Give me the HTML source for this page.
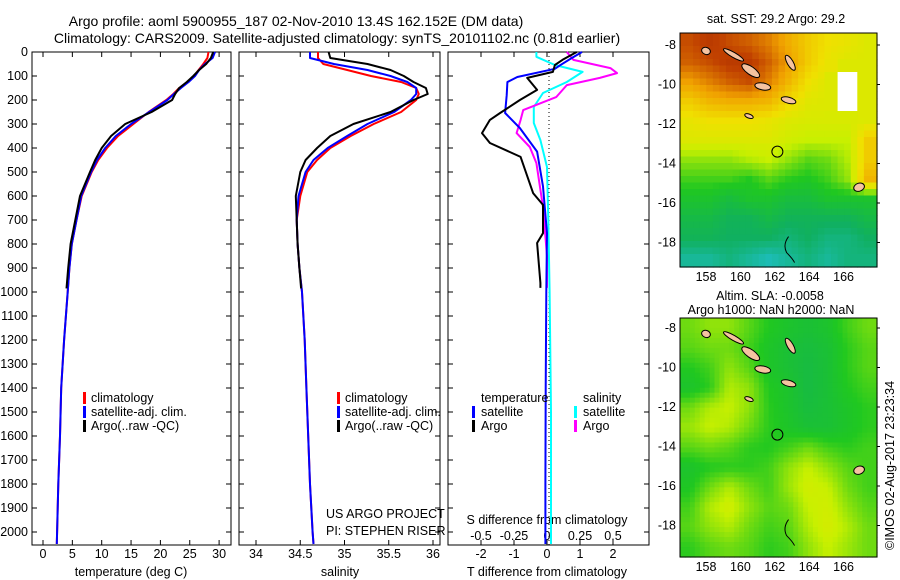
<!DOCTYPE html>
<html><head><meta charset="utf-8">
<style>
html,body{margin:0;padding:0;background:#fff;}
svg{display:block;font-family:"Liberation Sans",Arial,sans-serif;}
text{font-size:12.5px;fill:#000;}
.ttl{font-size:14px;}
</style></head>
<body>
<svg id="c" width="900" height="580" viewBox="0 0 900 580" xmlns="http://www.w3.org/2000/svg">
<text class="ttl" x="296" y="26" text-anchor="middle">Argo profile: aoml 5900955_187 02-Nov-2010 13.4S 162.152E (DM data)</text>
<text class="ttl" x="337" y="43" text-anchor="middle">Climatology: CARS2009. Satellite-adjusted climatology: synTS_20101102.nc (0.81d earlier)</text>
<g id="maps"></g>
<g id="plots"></g>
<text x="0" y="0" transform="translate(894,550) rotate(-90)">©IMOS 02-Aug-2017 23:23:34</text>
</svg>
<script>
// ---------- data ----------
const depthT = [0,25,50,75,100,125,150,175,200,250,300,350,400,450,500,600,700,800,900,1000,1200,1400,1600,1800,2000,2050];
const tempClim = [28.2,28.0,27.3,26.5,25.7,24.6,23.2,22.2,21.0,18.0,15.4,12.8,10.9,9.4,8.3,6.6,5.7,4.9,4.5,4.2,3.6,3.1,2.9,2.6,2.4,2.35];
const tempSat = [29.3,28.9,27.6,26.6,25.9,24.8,23.5,22.3,21.2,18.1,15.0,12.4,10.6,9.2,8.2,6.5,5.7,4.9,4.5,4.2,3.6,3.1,2.9,2.6,2.4,2.35];
const depthA = [0,25,50,75,100,125,150,175,200,250,300,350,400,450,500,600,700,800,900,985];
const tempArgo = [29.0,28.6,27.8,26.6,25.6,24.5,23.2,22.5,22.0,18.5,14.0,11.6,10.0,8.9,8.0,6.3,5.5,4.7,4.3,4.0];
const salClim = [34.70,34.70,34.76,35.03,35.30,35.64,35.81,35.84,35.81,35.64,35.33,35.07,34.84,34.69,34.58,34.50,34.46,34.47,34.49,34.52,34.55,34.57,34.59,34.61,34.64,34.65];
const salSat = [34.61,34.61,34.88,35.26,35.52,35.71,35.81,35.81,35.75,35.56,35.26,35.03,34.81,34.65,34.56,34.48,34.46,34.47,34.49,34.52,34.55,34.57,34.59,34.61,34.64,34.65];
const salArgo = [34.82,34.84,35.26,35.52,35.67,35.78,35.92,35.94,35.78,35.52,35.10,34.84,34.69,34.56,34.50,34.45,34.46,34.47,34.49,34.51];
const dDepTsat = [0,25,55,70,104,125,180,254,317,415,560,755,1000,1400,1800,2050];
const dTsat = [1.06,0.75,0.4,0.24,-0.9,-1.2,-1.22,-1.27,-0.82,-0.3,-0.12,0,-0.02,-0.04,-0.05,-0.05];
const dDepTargo = [0,30,54,83,108,158,200,254,283,338,379,437,588,637,755,796,962,983];
const dTargo = [0.9,0.5,0.24,0.18,-0.6,-0.3,-0.82,-1.42,-1.73,-1.97,-1.73,-0.8,-0.42,-0.12,-0.12,-0.3,-0.2,-0.2];
const dDepSsat = [0,20,54,83,125,171,229,296,367,479,700,1000,1500,2050];
const dSsat = [-0.08,-0.08,0.06,0.27,0.15,-0.03,-0.1,-0.1,-0.05,0,0.01,0.02,0.03,0.03];
const dDepSargo = [0,33,67,88,108,138,188,242,283,338,396,463,646,850,983];
const dSargo = [0.15,0.2,0.48,0.53,0.4,0.15,0.07,-0.18,-0.2,-0.23,-0.13,-0.08,-0.03,0,0];
const depthTicks = [0,100,200,300,400,500,600,700,800,900,1000,1100,1200,1300,1400,1500,1600,1700,1800,1900,2000];
const tempTicks = [0,5,10,15,20,25,30];
const salTicks = [34,34.5,35,35.5,36];
const dTTicks = [-2,-1,0,1,2];
const dSTicks = [-0.5,-0.25,0,0.25,0.5];
const sstGrid = [
[0.88,0.92,0.88,0.85,0.8,0.72,0.65,0.6,0.58,0.55],
[0.85,0.88,0.92,0.92,0.85,0.75,0.65,0.58,0.55,0.55],
[0.75,0.8,0.85,0.88,0.8,0.7,0.6,0.55,-1,0.55],
[0.65,0.7,0.72,0.72,0.7,0.62,0.56,0.55,-1,0.55],
[0.58,0.6,0.6,0.6,0.58,0.55,0.54,0.54,0.54,0.55],
[0.55,0.55,0.55,0.55,0.55,0.52,0.5,0.5,0.5,0.65],
[0.45,0.45,0.45,0.48,0.5,0.45,0.4,0.42,0.48,0.65],
[0.38,0.38,0.38,0.35,0.4,0.36,0.34,0.38,0.45,0.7],
[0.32,0.32,0.28,0.32,0.32,0.28,0.28,0.32,0.32,0.32],
[0.26,0.26,0.22,0.22,0.26,0.22,0.22,0.22,0.22,0.26],
[0.22,0.22,0.2,0.2,0.2,0.16,0.2,0.15,0.15,0.2],
[0.1,0.1,0.15,0.1,0.05,0.1,0.15,0.1,0.15,0.15]];
const slaGrid = [
[0.42,0.45,0.45,0.4,0.35,0.32,0.3,0.32,0.38,0.42],
[0.4,0.42,0.42,0.38,0.33,0.3,0.28,0.3,0.36,0.4],
[0.35,0.38,0.45,0.4,0.33,0.3,0.27,0.3,0.36,0.4],
[0.32,0.36,0.48,0.45,0.35,0.32,0.27,0.3,0.35,0.38],
[0.42,0.48,0.5,0.45,0.36,0.32,0.28,0.3,0.33,0.36],
[0.46,0.5,0.48,0.42,0.36,0.33,0.3,0.3,0.33,0.36],
[0.4,0.42,0.4,0.36,0.35,0.38,0.42,0.38,0.36,0.38],
[0.32,0.35,0.36,0.36,0.38,0.45,0.5,0.45,0.4,0.38],
[0.34,0.42,0.48,0.42,0.38,0.46,0.52,0.5,0.42,0.38],
[0.38,0.48,0.52,0.45,0.4,0.42,0.5,0.52,0.45,0.4],
[0.4,0.45,0.48,0.42,0.38,0.4,0.48,0.53,0.48,0.42],
[0.36,0.4,0.42,0.4,0.36,0.38,0.45,0.5,0.46,0.42]];

// ---------- helpers ----------
const NS='http://www.w3.org/2000/svg';
function mk(tag,attrs,parent){const e=document.createElementNS(NS,tag);for(const k in attrs)e.setAttribute(k,attrs[k]);parent.appendChild(e);return e;}
const plots=document.getElementById('plots');
const maps=document.getElementById('maps');
const yD=d=>52+d*0.24;
const TOP=52,BOT=545;
const xT=t=>43+t*5.87;
const xS=s=>256+(s-34)*88.5;
const xDT=v=>547+v*33;
const xDS=v=>547+v*132;

function frame(x0,x1,name){
  const r=mk('rect',{x:x0,y:TOP,width:x1-x0,height:BOT-TOP,fill:'none',stroke:'#000','stroke-width':1},plots);
  
  
  depthTicks.forEach(d=>{
    mk('line',{x1:x0,x2:x0+5,y1:yD(d),y2:yD(d),stroke:'#000'},plots);
    mk('line',{x1:x1,x2:x1-5,y1:yD(d),y2:yD(d),stroke:'#000'},plots);
  });
}
function xticks(ticks,fx,y,name){
  ticks.forEach(t=>{
    const x=fx(t);
    mk('line',{x1:x,x2:x,y1:BOT,y2:BOT-5,stroke:'#000'},plots);
    mk('line',{x1:x,x2:x,y1:TOP,y2:TOP+5,stroke:'#000'},plots);
    const tx=mk('text',{x:x,y:y,'text-anchor':'middle'},plots);
    tx.textContent=String(t);
    
    
  });
}
function line(xs,ds,fx,color,name){
  const pts=xs.map((v,i)=>fx(v).toFixed(1)+','+yD(ds[i]).toFixed(1)).join(' ');
  const p=mk('polyline',{points:pts,fill:'none',stroke:color,'stroke-width':2,'stroke-linejoin':'round'},plots);
  
  
}
function txt(x,y,s,name,anchor){
  const t=mk('text',{x:x,y:y,'text-anchor':anchor||'start'},plots);
  t.textContent=s;
  
  
  return t;
}
function legMark(x,y,color,name){
  const r=mk('rect',{x:x,y:y-10,width:3,height:12,fill:color},plots);
  
  
}

depthTicks.forEach(d=>{
  const t=mk('text',{x:28,y:yD(d)+4,'text-anchor':'end'},plots);
  t.textContent=String(d);
  
  
});

// panel 1
frame(32,231,'temperature-panel');
xticks(tempTicks,xT,558,'temperature-tick-label');
txt(131,576,'temperature (deg C)','temperature-axis-title','middle');
line(tempClim,depthT,xT,'#ff0000','temperature-climatology-line');
line(tempSat,depthT,xT,'#0000ff','temperature-satellite-line');
line(tempArgo,depthA,xT,'#000000','temperature-argo-line');
legMark(83,402,'#ff0000','legend-climatology-marker');txt(91,402,'climatology','legend-climatology');
legMark(83,416,'#0000ff','legend-satellite-marker');txt(91,416,'satellite-adj. clim.','legend-satellite-adj');
legMark(83,430,'#000000','legend-argo-marker');txt(91,430,'Argo(..raw -QC)','legend-argo');

// panel 2
frame(239,440,'salinity-panel');
xticks(salTicks,xS,558,'salinity-tick-label');
txt(340,576,'salinity','salinity-axis-title','middle');
line(salClim,depthT,xS,'#ff0000','salinity-climatology-line');
line(salSat,depthT,xS,'#0000ff','salinity-satellite-line');
line(salArgo,depthA,xS,'#000000','salinity-argo-line');
legMark(337,402,'#ff0000','legend2-climatology-marker');txt(345,402,'climatology','legend2-climatology');
legMark(337,416,'#0000ff','legend2-satellite-marker');txt(345,416,'satellite-adj. clim.','legend2-satellite-adj');
legMark(337,430,'#000000','legend2-argo-marker');txt(345,430,'Argo(..raw -QC)','legend2-argo');
txt(326,518,'US ARGO PROJECT','project-label');
txt(326,535,'PI: STEPHEN RISER','pi-label');

// panel 3
frame(448,649,'difference-panel');
xticks(dTTicks,xDT,558,'t-diff-tick-label');
dSTicks.forEach(t=>{ txt(xDS(t),540,String(t),'s-diff-tick-label','middle'); });
txt(547,524,'S difference from climatology','s-diff-axis-title','middle');
txt(547,576,'T difference from climatology','t-diff-axis-title','middle');
mk('line',{x1:549,x2:549,y1:TOP,y2:BOT,stroke:'#000','stroke-dasharray':'1,3'},plots);
line(dSsat,dDepSsat,xDS,'#00ffff','s-diff-satellite-line');
line(dSargo,dDepSargo,xDS,'#ff00ff','s-diff-argo-line');
line(dTsat,dDepTsat,xDT,'#0000ff','t-diff-satellite-line');
line(dTargo,dDepTargo,xDT,'#000000','t-diff-argo-line');
txt(481,402,'temperature','legend3-temperature-heading');
txt(583,402,'salinity','legend3-salinity-heading');
legMark(472,416,'#0000ff','legend3-t-satellite-marker');txt(481,416,'satellite','legend3-t-satellite');
legMark(472,430,'#000000','legend3-t-argo-marker');txt(481,430,'Argo','legend3-t-argo');
legMark(574,416,'#00ffff','legend3-s-satellite-marker');txt(583,416,'satellite','legend3-s-satellite');
legMark(574,430,'#ff00ff','legend3-s-argo-marker');txt(583,430,'Argo','legend3-s-argo');

// ---------- maps ----------
const stops=[[0,[32,192,208]],[0.2,[16,176,96]],[0.35,[32,200,32]],[0.5,[200,240,0]],[0.6,[240,224,0]],[0.75,[240,160,0]],[0.9,[192,64,0]],[1,[160,40,0]]];
function cmap(v){
  for(let i=1;i<stops.length;i++){if(v<=stops[i][0]){const a=stops[i-1],b=stops[i];const f=(v-a[0])/(b[0]-a[0]);
    return 'rgb('+a[1].map((c,j)=>Math.round(c+(b[1][j]-c)*f)).join(',')+')';}}
  return 'rgb(160,40,0)';
}
const MX0=680,MX1=877;
const lonX=lon=>706+(lon-158)*17.2;
function drawMap(grid,y0,y1,latTop,name,smooth){
  const g=mk('g',{},maps);
  
  
  const latY=lat=>latTop+(-8-lat)*19.75;
  const rows=grid.length,cols=grid[0].length;
  const sub=smooth?4:3;
  const W=(MX1-MX0)/(cols*sub),H=(y1-y0)/(rows*sub);
  for(let r=0;r<rows*sub;r++)for(let c=0;c<cols*sub;c++){
    const fr=Math.min(rows-1,Math.max(0,(r+0.5)/sub-0.5)),fc=Math.min(cols-1,Math.max(0,(c+0.5)/sub-0.5));
    const r0=Math.floor(fr),c0=Math.floor(fc),r1=Math.min(rows-1,r0+1),c1=Math.min(cols-1,c0+1);
    const a=grid[r0][c0],b=grid[r0][c1],cc=grid[r1][c0],d=grid[r1][c1];
    let v;
    if(a<0||b<0||cc<0||d<0){v=grid[Math.round(fr)][Math.round(fc)];}
    else{const fy=fr-r0,fx=fc-c0;v=a*(1-fx)*(1-fy)+b*fx*(1-fy)+cc*(1-fx)*fy+d*fx*fy;}
    mk('rect',{x:(MX0+c*W).toFixed(2),y:(y0+r*H).toFixed(2),width:(W+0.6).toFixed(2),height:(H+0.6).toFixed(2),fill:v<0?'#ffffff':cmap(v)},g);
  }
  const isl=[[160.6,-9.3,18,5,35],[161.3,-10.1,13,4,10],[162.9,-8.9,14,3,60],[159.6,-8.5,20,2,30],[162.8,-10.8,12,3,15],[158.0,-8.3,6,4,20],[166.9,-15.2,5,8,70],[160.5,-11.6,6,1,20]];
  isl.forEach(s=>{mk('ellipse',{cx:lonX(s[0]),cy:latY(s[1]),rx:s[2]/2+1.5,ry:s[3]/2+1.5,fill:'#f5c3a0',stroke:'#000','stroke-width':1,transform:'rotate('+s[4]+' '+lonX(s[0])+' '+latY(s[1])+')'},g);});
  mk('path',{d:'M'+lonX(162.8)+' '+latY(-17.7)+' q-6 8 -2 16 q6 6 8 10',fill:'none',stroke:'#000'},g);
  mk('rect',{x:MX0,y:y0,width:MX1-MX0,height:y1-y0,fill:'none',stroke:'#000'},g);
  const circ=mk('circle',{cx:lonX(162.15),cy:latY(-13.4),r:5.5,fill:'none',stroke:'#000','stroke-width':1},g);
  
  
  [-8,-10,-12,-14,-16,-18].forEach(l=>{
    const t=mk('text',{x:676,y:latY(l)+4,'text-anchor':'end'},g);t.textContent=String(l);
    mk('line',{x1:MX1,x2:MX1+3,y1:latY(l),y2:latY(l),stroke:'#000'},g);
  });
  [158,160,162,164,166].forEach(l=>{
    const t=mk('text',{x:lonX(l),y:y1+14,'text-anchor':'middle'},g);t.textContent=String(l);
  });
}
drawMap(sstGrid,33,267,45,'sst-map',false);
drawMap(slaGrid,318,557,328,'sla-map',true);
function mt(x,y,s,name){const t=mk('text',{x:x,y:y,'text-anchor':'middle'},maps);t.textContent=s;}
mt(776,23,'sat. SST: 29.2 Argo: 29.2','sst-map-title');
mt(770,300,'Altim. SLA: -0.0058','sla-map-title');
mt(771,314,'Argo h1000: NaN h2000: NaN','sla-map-subtitle');
</script>
</body></html>
